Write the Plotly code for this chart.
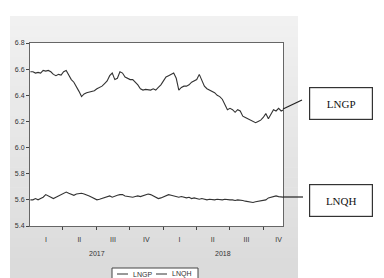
import plotly.graph_objects as go
import pandas as pd

# ---- data (weekly readings) ----
lngp = [6.58, 6.58, 6.57, 6.575, 6.57, 6.59, 6.585, 6.59, 6.58, 6.56,
        6.55, 6.56, 6.555, 6.58, 6.59, 6.55, 6.52, 6.50, 6.47, 6.43,
        6.39, 6.41, 6.42, 6.425, 6.43, 6.435, 6.45, 6.46, 6.47, 6.49,
        6.51, 6.55, 6.57, 6.52, 6.53, 6.58, 6.57, 6.54, 6.53, 6.52,
        6.52, 6.50, 6.48, 6.45, 6.44, 6.445, 6.44, 6.44, 6.45, 6.44,
        6.46, 6.48, 6.51, 6.54, 6.55, 6.56, 6.57, 6.53, 6.44, 6.46,
        6.47, 6.47, 6.48, 6.50, 6.51, 6.52, 6.56, 6.51, 6.47, 6.45,
        6.44, 6.43, 6.42, 6.40, 6.39, 6.37, 6.33, 6.29, 6.30, 6.29,
        6.27, 6.29, 6.28, 6.24, 6.23, 6.22, 6.21, 6.20, 6.19, 6.20,
        6.21, 6.23, 6.26, 6.22, 6.25, 6.29, 6.28, 6.30, 6.28, 6.29]
lnqh = [5.60, 5.60, 5.61, 5.60, 5.61, 5.62, 5.64, 5.63, 5.62, 5.61,
        5.62, 5.63, 5.64, 5.655, 5.66, 5.65, 5.64, 5.635, 5.645, 5.65,
        5.65, 5.645, 5.64, 5.63, 5.62, 5.61, 5.60, 5.605, 5.61, 5.62,
        5.625, 5.63, 5.62, 5.63, 5.635, 5.64, 5.64, 5.63, 5.625, 5.62,
        5.62, 5.625, 5.63, 5.625, 5.63, 5.64, 5.645, 5.64, 5.63, 5.62,
        5.61, 5.615, 5.625, 5.635, 5.64, 5.635, 5.63, 5.625, 5.62, 5.625,
        5.62, 5.615, 5.62, 5.61, 5.615, 5.61, 5.605, 5.61, 5.605, 5.60,
        5.605, 5.60, 5.60, 5.605, 5.60, 5.60, 5.605, 5.60, 5.60, 5.60,
        5.595, 5.60, 5.60, 5.595, 5.59, 5.585, 5.58, 5.58, 5.585, 5.59,
        5.59, 5.595, 5.60, 5.615, 5.62, 5.625, 5.63, 5.625, 5.625, 5.62]
dates = pd.date_range("2017-01-02", periods=len(lngp), freq="7D")
series_names = ["LNGP", "LNQH"]

quarter_bounds = ["2017-04-01", "2017-07-01", "2017-10-01", "2018-01-01",
                  "2018-04-01", "2018-07-01", "2018-10-01"]
quarter_mids = ["2017-02-14", "2017-05-16", "2017-08-16", "2017-11-15",
                "2018-02-14", "2018-05-16", "2018-08-16", "2018-11-12"]
quarter_labels = ["I", "II", "III", "IV", "I", "II", "III", "IV"]
years = ["2017", "2018"]
year_pos = ["2017-07-02", "2018-06-12"]

fig = go.Figure()
line_col = "#333333"
for name, vals in zip(series_names, [lngp, lnqh]):
    fig.add_trace(go.Scatter(x=dates, y=vals, mode="lines", name=name,
                             line=dict(color=line_col, width=1.1),
                             showlegend=False))

W, H = 384, 278
L, R, T, B = 30, 283, 43, 226
pw, ph = R - L, B - T
def px(x): return (x - L) / pw
def py(y): return (B - y) / ph

shapes = []
# gray panel gradient
x0, x1, y0, y1 = 10, 298, 16, 278
n = 26
for i in range(n):
    ya = y0 + (y1 - y0) * i / n
    yb = y0 + (y1 - y0) * (i + 1) / n + 0.5
    c = int(241 - 22 * i / (n - 1))
    shapes.append(dict(type="rect", xref="paper", yref="paper",
                       x0=px(x0), x1=px(x1), y0=py(yb), y1=py(ya),
                       fillcolor=f"rgb({c},{c},{c})", line=dict(width=0),
                       layer="below"))
# white plotting area
shapes.append(dict(type="rect", xref="paper", yref="paper",
                   x0=0, x1=1, y0=0, y1=1, fillcolor="white",
                   line=dict(width=0), layer="below"))
# connector lines
shapes.append(dict(type="line", xref="paper", yref="paper",
                   x0=px(283), y0=py(109), x1=px(302), y1=py(100),
                   line=dict(color="#222", width=1.2)))
shapes.append(dict(type="line", xref="paper", yref="paper",
                   x0=px(283), y0=py(197), x1=px(303), y1=py(197),
                   line=dict(color="#222", width=1.2)))
# manual legend box
shapes.append(dict(type="rect", xref="paper", yref="paper",
                   x0=px(112), x1=px(198), y0=py(284), y1=py(268),
                   fillcolor="white", line=dict(color="#444", width=1)))
leg_x = [117, 156]
for lx in leg_x:
    shapes.append(dict(type="line", xref="paper", yref="paper",
                       x0=px(lx), x1=px(lx + 11), y0=py(274), y1=py(274),
                       line=dict(color="#333", width=1)))

annotations = []
for yr, pos in zip(years, year_pos):
    annotations.append(dict(x=pos, y=py(253), xref="x", yref="paper",
                            text=yr, showarrow=False, xanchor="center",
                            yanchor="middle",
                            font=dict(size=7, color="#333", family="Arial")))
for name, lx in zip(series_names, leg_x):
    annotations.append(dict(x=px(lx + 14), y=py(274), xref="paper", yref="paper",
                            text=name, showarrow=False, xanchor="left",
                            yanchor="middle",
                            font=dict(size=7, color="#333", family="Arial")))
for name, cy in zip(series_names, [103.5, 200]):
    annotations.append(dict(x=px(341), y=py(cy), xref="paper", yref="paper",
                            text=name, showarrow=False, width=58, height=27,
                            xanchor="center", yanchor="middle",
                            borderpad=2, bordercolor="#333", borderwidth=1.2,
                            bgcolor="white",
                            font=dict(size=11, color="#111",
                                      family="Liberation Serif")))

fig.update_layout(
    width=W, height=H,
    margin=dict(l=L, r=W - R, t=T, b=H - B, autoexpand=False),
    paper_bgcolor="white", plot_bgcolor="white",
    shapes=shapes, annotations=annotations,
    showlegend=False,
    xaxis=dict(type="date", range=["2017-01-01", "2018-11-24"],
               tickvals=quarter_mids, ticktext=quarter_labels, ticks="",
               ticklabelstandoff=7,
               tickfont=dict(size=7, color="#333", family="Arial"),
               showgrid=False, zeroline=False,
               showline=True, linecolor="#666", linewidth=1, mirror=True,
               minor=dict(tickvals=quarter_bounds, ticks="outside", ticklen=3,
                          tickcolor="#444", showgrid=False)),
    yaxis=dict(range=[5.4, 6.8], dtick=0.2, tickformat=".1f",
               ticks="outside", ticklen=3, tickcolor="#444",
               tickfont=dict(size=7, color="#333", family="Arial"),
               showgrid=False, zeroline=False,
               showline=True, linecolor="#666", linewidth=1, mirror=True),
)

fig.write_html("out.html")
